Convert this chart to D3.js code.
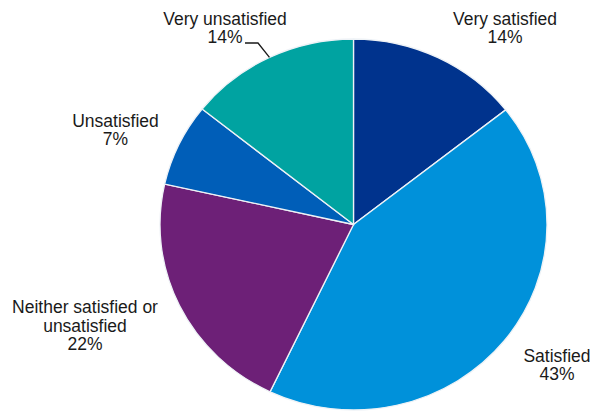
<!DOCTYPE html>
<html>
<head>
<meta charset="utf-8">
<script src="https://cdn.jsdelivr.net/npm/d3@7"></script>
<style>
  html, body { margin: 0; padding: 0; background: #fff; }
  svg { display: block; }
  text { font-family: "Liberation Sans", Arial, sans-serif; font-size: 17.5px; fill: #1a1a1a; }
</style>
</head>
<body>
<svg id="chart" width="595" height="413"></svg>
<script>
// Data
const categories = ["Very satisfied", "Satisfied", "Neither satisfied or unsatisfied", "Unsatisfied", "Very unsatisfied"];
const values = [14.4, 42.7, 21.4, 7.2, 14.3];
const percentLabels = ["14%", "43%", "22%", "7%", "14%"];
const colors = ["#00338D", "#0091DA", "#6D2077", "#005EB8", "#00A3A1"];

const svg = d3.select("#chart");
const cx = 353.5, cy = 224.5, ry = 185.5, rx = 193.5;
const sx = rx / ry;

const pie = d3.pie().sort(null).value(d => d)(values);
const arc = d3.arc().innerRadius(0).outerRadius(ry);

const g = svg.append("g").attr("transform", `translate(${cx},${cy}) scale(${sx},1)`);
g.selectAll("path").data(pie).enter().append("path")
  .attr("d", arc)
  .attr("fill", (d, i) => colors[i])
  .attr("stroke", "#eef2f6")
  .attr("stroke-width", 1.3)
  .attr("vector-effect", "non-scaling-stroke");

// Label layout (center x, first baseline y, line lists)
const lineH = 18.4;
const labelLayout = [
  { x: 505, y: 25, lines: ["Very satisfied"] },
  { x: 557, y: 361.7, lines: ["Satisfied"] },
  { x: 85, y: 313.3, lines: ["Neither satisfied or", "unsatisfied"] },
  { x: 115.5, y: 126.7, lines: ["Unsatisfied"] },
  { x: 225, y: 25, lines: ["Very unsatisfied"] }
];

labelLayout.forEach((L, i) => {
  const t = svg.append("text").attr("text-anchor", "middle");
  const all = L.lines.concat([percentLabels[i]]);
  all.forEach((s, k) => {
    t.append("tspan").attr("x", L.x).attr("y", L.y + k * lineH).text(s);
  });
});

// Leader line for "Very unsatisfied"
const d5 = pie[4];
const mid = (d5.startAngle + d5.endAngle) / 2;
const ex = cx + Math.sin(mid) * rx;
const ey = cy - Math.cos(mid) * ry;
svg.append("polyline")
  .attr("points", `${245},${43} ${258},${43} ${ex},${ey}`)
  .attr("fill", "none")
  .attr("stroke", "#1a1a1a")
  .attr("stroke-width", 1.3);
</script>
</body>
</html>
